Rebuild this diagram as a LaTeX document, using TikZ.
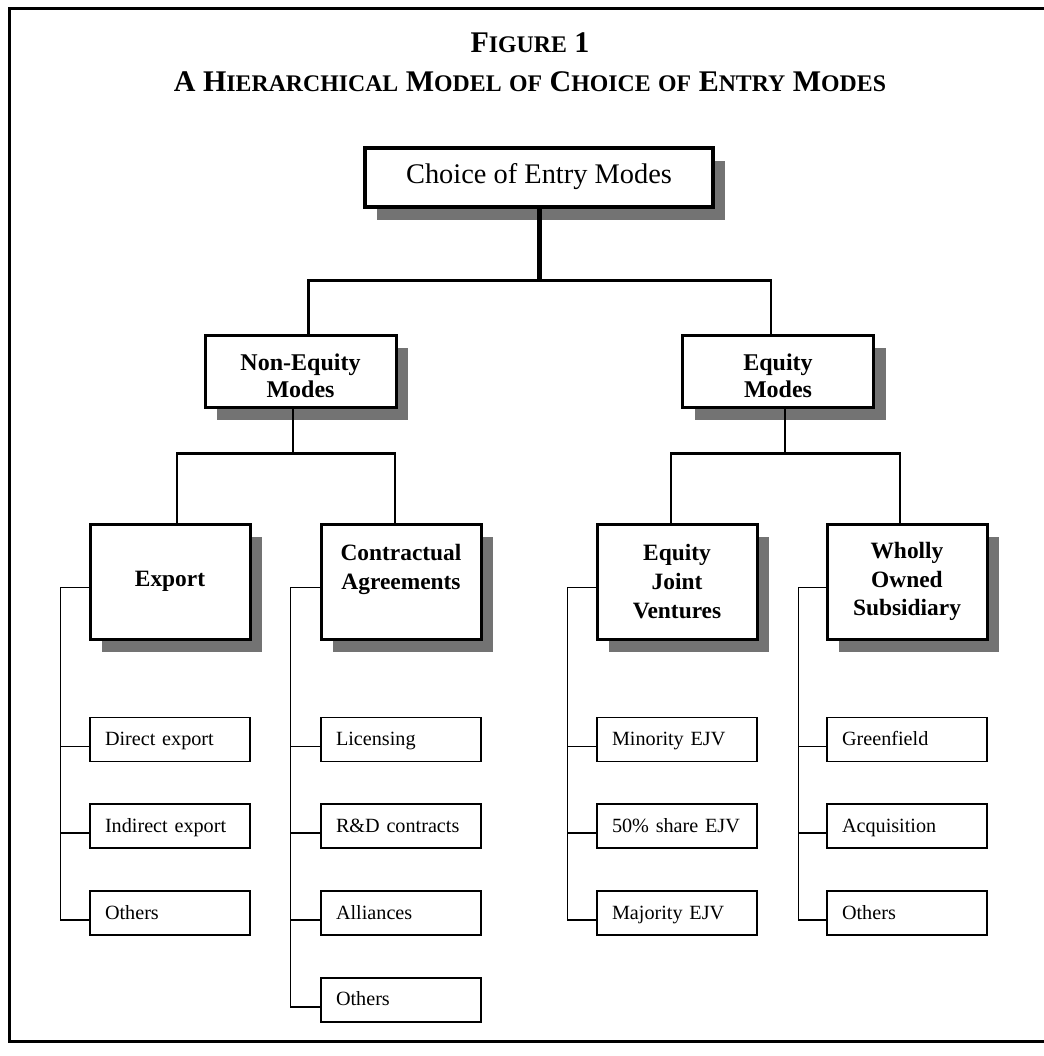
\documentclass[tikz,border=0pt]{standalone}
\usepackage{fontspec}
\setmainfont{Liberation Serif}
\usetikzlibrary{positioning,shadows}
\newcommand\smcap[1]{{\fontsize{11.9}{12}\selectfont #1}}

\begin{document}
\begin{tikzpicture}[
  x=0.5pt,y=-0.5pt,
  node distance=20.5pt,
  boxshadow/.style={drop shadow={shadow xshift=6pt,shadow yshift=-6.5pt,fill=black!55,opacity=1}},
  topbox/.style={draw,line width=2pt,fill=white,boxshadow,minimum width=174pt,minimum height=29.5pt,inner sep=0pt,font=\fontsize{14.2}{16}\selectfont},
  modebox/.style={draw,line width=1.5pt,fill=white,boxshadow,align=center,minimum width=95.5pt,minimum height=36pt,inner sep=0pt,text height=28pt,text depth=2pt,font=\bfseries\fontsize{12}{13.5}\selectfont},
  typebox/.style={draw,line width=1.5pt,fill=white,boxshadow,align=center,minimum width=80pt,minimum height=57.5pt,inner sep=0pt,font=\bfseries\fontsize{11.7}{14.4}\selectfont},
  leaf/.style={draw,line width=0.9pt,text width=65pt,align=left,inner xsep=7.5pt,inner ysep=0pt,minimum height=22pt,text height=8pt,text depth=2pt,font=\fontsize{10.1}{12}\selectfont},
  stem/.style={line width=2.5pt},
  conn/.style={line width=1.2pt},
  leafline/.style={line width=0.9pt}
]
\useasboundingbox (0,0) rectangle (1044,1056);
% frame, open on the right
\draw[line width=1.5pt] (1044,8) -- (9,8) -- (9,1041) -- (1044,1041);

% title
\node[anchor=base,font=\bfseries\fontsize{15}{18}\selectfont] (fignum) at (530,52) {F\smcap{IGURE} 1};
\node[anchor=base,font=\bfseries\fontsize{15}{18}\selectfont] (figtitle) at (530,91)
  {A H\smcap{IERARCHICAL} M\smcap{ODEL} \smcap{OF} C\smcap{HOICE} \smcap{OF} E\smcap{NTRY} M\smcap{ODES}};

% tree
\node[topbox] (root) at (539,177) {Choice of Entry Modes};
\node[modebox] (noneq) at (300.5,371) {Non-Equity\\Modes};
\node[modebox] (eq) at (778,371) {Equity\\Modes};
\node[typebox] (export) at (170,581.5) {Export};
\node[typebox] (contr) at (401,581.5) {Contractual\\Agreements\\\mbox{}};
\node[typebox] (ejv) at (677,581.5) {Equity\\Joint\\Ventures};
\node[typebox] (wos) at (907,581.5) {Wholly\\Owned\\Subsidiary};

% leaves
\node[leaf,below=38pt of export] (ex1) {Direct export};
\node[leaf,below=of ex1] (ex2) {Indirect export};
\node[leaf,below=of ex2] (ex3) {Others};
\node[leaf,below=38pt of contr] (ca1) {Licensing};
\node[leaf,below=of ca1] (ca2) {R\&D contracts};
\node[leaf,below=of ca2] (ca3) {Alliances};
\node[leaf,below=of ca3] (ca4) {Others};
\node[leaf,below=38pt of ejv] (ej1) {Minority EJV};
\node[leaf,below=of ej1] (ej2) {50\% share EJV};
\node[leaf,below=of ej2] (ej3) {Majority EJV};
\node[leaf,below=38pt of wos] (ws1) {Greenfield};
\node[leaf,below=of ws1] (ws2) {Acquisition};
\node[leaf,below=of ws2] (ws3) {Others};

% connectors
\draw[stem] (root.south) -- ++(0,72) coordinate (rj);
\draw[conn] ([xshift=4pt]noneq.north) |- (rj) -| ([xshift=-3.5pt]eq.north);
\draw[conn] ([xshift=-3.75pt]noneq.south) -- ++(0,45) coordinate (nj);
\draw[conn] ([xshift=3.5pt]export.north) |- (nj) -| ([xshift=-3pt]contr.north);
\draw[conn] ([xshift=3.5pt]eq.south) -- ++(0,45) coordinate (ej);
\draw[conn] ([xshift=-3pt]ejv.north) |- (ej) -| ([xshift=-3.5pt]wos.north);

\draw[leafline] ([yshift=-3pt]export.west) -- ++(-28,0) |- ([yshift=-3.5pt]ex3.west);
\draw[leafline] ([yshift=-3pt]contr.west) -- ++(-29,0) |- ([yshift=-3.5pt]ca4.west);
\draw[leafline] ([yshift=-3pt]ejv.west) -- ++(-28,0) |- ([yshift=-3.5pt]ej3.west);
\draw[leafline] ([yshift=-3pt]wos.west) -- ++(-27,0) |- ([yshift=-3.5pt]ws3.west);
\foreach \n in {ex1,ex2,ej1,ej2}
  \draw[leafline] ([yshift=-3.5pt]\n.west) -- ++(-28,0);
\foreach \n in {ca1,ca2,ca3}
  \draw[leafline] ([yshift=-3.5pt]\n.west) -- ++(-29,0);
\foreach \n in {ws1,ws2}
  \draw[leafline] ([yshift=-3.5pt]\n.west) -- ++(-27,0);
\end{tikzpicture}
\end{document}
